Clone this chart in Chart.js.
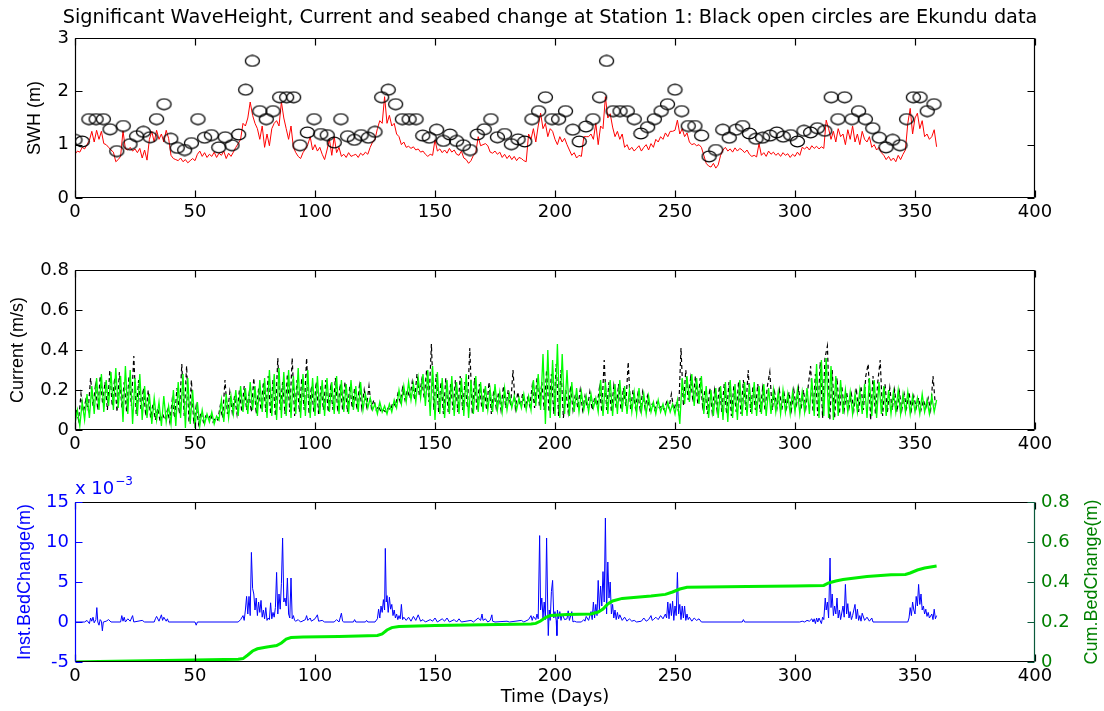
<!DOCTYPE html>
<html>
<head>
<meta charset="utf-8">
<script src="https://cdn.jsdelivr.net/npm/chart.js@4.4.1/dist/chart.umd.min.js"></script>
<style>
  html, body { margin: 0; padding: 0; background: #fff; }
  #wrap { position: relative; width: 1104px; height: 711px; }
  canvas { position: absolute; left: 0; }
</style>
</head>
<body>
<div id="wrap">
  <canvas id="swh" width="1104" height="240" style="top:0"></canvas>
  <canvas id="cur" width="1104" height="232" style="top:240px"></canvas>
  <canvas id="bed" width="1104" height="239" style="top:472px"></canvas>
</div>
<script>
// ---- data ----
const chartTitle = 'Significant WaveHeight, Current and seabed change at Station 1: Black open circles are Ekundu data';

// model SWH (m), one value per day, day 0..359
const swhModel = [
  0.82, 0.88, 0.86, 0.95, 0.92, 1.0, 1.08, 1.25, 1.05, 1.27,
  1.1, 1.25, 1.02, 1.0, 0.95, 0.9, 0.86, 0.68, 0.72, 0.78,
  1.26, 0.92, 0.9, 0.95, 0.88, 0.92, 0.85, 0.93, 0.75, 0.9,
  0.71, 1.1, 1.25, 1.05, 1.27, 1.1, 1.2, 1.05, 1.27, 1.12,
  0.8, 0.74, 0.72, 0.7, 0.75, 0.68, 0.72, 0.66, 0.7, 0.74,
  0.7, 0.82, 0.88, 0.78, 0.85, 0.76, 0.82, 0.78, 0.86, 0.76,
  0.84, 0.8, 0.88, 0.74, 0.84, 0.78, 0.86, 0.95, 1.02, 1.1,
  1.4, 1.35, 1.5, 1.8, 1.55, 1.4, 1.3, 1.1, 1.35, 0.95,
  1.2, 0.98, 1.3, 1.4, 1.45, 1.35, 1.8, 1.5, 1.3, 1.1,
  1.35, 0.95, 0.85, 0.78, 0.74, 0.85, 0.92, 1.0, 1.15, 0.9,
  1.0, 0.88, 0.95, 0.82, 0.72, 0.9, 1.1, 0.8, 1.15, 0.85,
  0.95, 0.78, 0.82, 0.76, 0.85, 0.78, 0.8, 0.82, 0.76, 0.84,
  0.8, 0.86, 0.82, 0.95, 1.05, 1.1, 1.3, 1.45, 1.4, 1.9,
  1.4, 1.55, 1.35, 1.4, 1.2, 1.15, 1.0, 1.05, 0.95, 0.97,
  0.93, 0.96, 0.9, 0.92, 0.86, 0.88, 0.82, 0.78, 0.82, 0.8,
  1.09, 0.88, 0.92, 0.85, 0.9, 0.84, 0.93, 0.86, 0.9, 0.82,
  0.8, 0.88, 0.75, 0.72, 0.65, 0.7, 0.8, 0.85, 1.15, 0.98,
  1.0, 1.02, 0.98, 0.86, 0.84, 0.88, 0.82, 0.86, 0.76, 0.82,
  0.74, 0.8, 0.72, 0.78, 0.7, 0.76, 0.74, 0.7, 0.68, 1.2,
  1.1, 1.3, 1.05, 1.35, 1.59, 1.3, 1.4, 1.15, 1.3, 1.25,
  1.1, 1.0, 1.15, 1.05, 1.12, 1.0, 0.9, 0.8, 0.85, 0.75,
  0.8, 0.78, 1.15, 1.15, 1.15, 1.2, 1.1, 1.4, 1.0, 1.35,
  1.3, 1.9, 1.5, 1.58, 1.33, 1.15, 1.25, 1.1, 1.2, 0.95,
  1.0, 0.9, 0.95, 0.88, 0.93, 0.98, 0.88, 0.95, 1.0, 0.9,
  1.02, 0.95, 1.1, 1.05, 1.15, 1.1, 1.22, 1.15, 1.25, 1.25,
  1.27, 1.46, 1.2, 1.3, 1.15, 1.22, 1.05, 1.0, 1.02, 0.98,
  1.0, 0.95, 0.8, 0.65, 0.6, 0.58, 0.65, 0.56, 0.62, 0.8,
  0.9, 0.95, 0.88, 0.92, 0.86, 0.94, 0.88, 0.93, 0.9, 0.85,
  0.9, 0.82, 0.78, 0.8, 0.77, 1.02, 0.8, 0.85, 0.78, 0.88,
  0.82, 0.86, 0.8, 0.84, 0.78, 0.85, 0.8, 0.83, 0.76, 0.82,
  0.78, 0.86, 0.8, 0.95, 0.92, 0.96, 0.9, 0.98, 0.93, 0.97,
  0.92, 0.96, 0.93, 1.46, 1.3, 1.1, 1.25, 1.05, 1.3, 1.15,
  1.2, 1.0, 1.28, 1.1, 1.35, 1.05, 1.2, 1.0, 1.25, 1.1,
  1.05, 1.15, 0.95, 1.0, 0.9, 0.95, 0.85, 0.8, 0.72, 0.78,
  0.7, 0.75, 0.68, 0.8, 0.72, 0.82, 0.9, 1.4, 1.68, 1.2,
  1.5, 1.59, 1.3, 1.45, 1.15, 1.2, 1.1, 1.15, 1.28, 0.96
];

// Ekundu SWH observations (open circles)
const ekunduDays = [
  0, 3, 5.8, 8.8, 11.8, 14.6, 17.4, 20.1, 22.9, 25.7,
  28.5, 31.3, 34, 37.1, 39.9, 42.6, 45.7, 48.5, 51.25, 54,
  56.8, 59.9, 62.6, 65.4, 68.2, 71.1, 73.9, 77, 79.7, 82.5,
  85.3, 88.2, 91.1, 93.75, 96.8, 99.6, 102.4, 105.1, 108, 110.8,
  113.6, 116.4, 119.2, 122.2, 125, 127.8, 130.5, 133.6, 136.4, 139.2,
  142.1, 144.9, 147.6, 150.7, 153.5, 156.25, 159, 161.8, 164.6, 167.6,
  170.5, 173.3, 176, 179, 181.8, 184.6, 187.4, 190.4, 193.2, 196,
  198.75, 201.5, 204.4, 207.4, 210.1, 212.9, 215.8, 218.6, 221.5, 224.2,
  227.1, 230.1, 233, 235.8, 238.6, 241.4, 244.2, 246.9, 250, 252.8,
  255.5, 258.3, 261.1, 264.2, 267, 269.9, 272.6, 275.4, 278.2, 281,
  283.75, 286.5, 289.6, 292.4, 295.1, 298.2, 301, 303.75, 306.5, 309.3,
  312.4, 315.1, 317.9, 320.7, 323.75, 326.5, 329.3, 332.4, 335.1, 337.9,
  340.7, 343.75, 346.5, 349.3, 352.1, 355.1, 357.9
];
const ekunduSwh = [
  1.09, 1.06, 1.48, 1.48, 1.48, 1.29, 0.88, 1.35, 1.01, 1.16,
  1.24, 1.14, 1.48, 1.76, 1.11, 0.94, 0.9, 1.03, 1.48, 1.13,
  1.18, 0.95, 1.14, 0.99, 1.19, 2.03, 2.57, 1.63, 1.48, 1.63,
  1.89, 1.89, 1.89, 0.99, 1.23, 1.48, 1.2, 1.18, 1.04, 1.48,
  1.16, 1.09, 1.18, 1.13, 1.24, 1.89, 2.03, 1.76, 1.48, 1.48,
  1.48, 1.17, 1.13, 1.28, 1.07, 1.19, 1.07, 0.99, 0.9, 1.19,
  1.29, 1.48, 1.14, 1.2, 1.01, 1.1, 1.06, 1.48, 1.63, 1.89,
  1.48, 1.48, 1.63, 1.28, 1.06, 1.34, 1.48, 1.89, 2.57, 1.63,
  1.63, 1.63, 1.48, 1.21, 1.33, 1.48, 1.63, 1.76, 2.03, 1.63,
  1.35, 1.35, 1.17, 0.78, 0.9, 1.28, 1.13, 1.28, 1.35, 1.21,
  1.11, 1.13, 1.17, 1.23, 1.15, 1.18, 1.06, 1.26, 1.23, 1.31,
  1.26, 1.89, 1.48, 1.89, 1.48, 1.63, 1.48, 1.31, 1.13, 0.95,
  1.09, 0.99, 1.48, 1.89, 1.89, 1.63, 1.76
];

// current speed (m/s), green: day 0..359
const currentGreen = [
  0.03, 0.10, 0.02, 0.14, 0.05, 0.18, 0.06, 0.22, 0.08, 0.26,
  0.10, 0.28, 0.09, 0.25, 0.12, 0.29, 0.10, 0.31, 0.11, 0.27,
  0.04, 0.32, 0.08, 0.30, 0.03, 0.26, 0.07, 0.28, 0.05, 0.22,
  0.06, 0.18, 0.03, 0.16, 0.05, 0.14, 0.02, 0.17, 0.04, 0.12,
  0.03, 0.20, 0.02, 0.24, 0.06, 0.28, 0.01, 0.26, 0.03, 0.20,
  0.01, 0.14, 0.02, 0.10, 0.03, 0.08, 0.04, 0.09, 0.03, 0.07,
  0.05, 0.15, 0.04, 0.18, 0.06, 0.17, 0.08, 0.20, 0.07, 0.22,
  0.09, 0.21, 0.08, 0.24, 0.10, 0.22, 0.07, 0.25, 0.09, 0.26,
  0.06, 0.30, 0.07, 0.28, 0.05, 0.31, 0.06, 0.29, 0.07, 0.30,
  0.06, 0.27, 0.08, 0.31, 0.06, 0.28, 0.07, 0.30, 0.06, 0.26,
  0.07, 0.27, 0.08, 0.25, 0.07, 0.26, 0.09, 0.24, 0.08, 0.27,
  0.08, 0.25, 0.09, 0.23, 0.08, 0.25, 0.10, 0.22, 0.09, 0.24,
  0.10, 0.18, 0.11, 0.16, 0.10, 0.13, 0.08, 0.14, 0.09, 0.12,
  0.08, 0.13, 0.09, 0.15, 0.11, 0.20, 0.13, 0.22, 0.14, 0.24,
  0.15, 0.23, 0.14, 0.26, 0.16, 0.28, 0.12, 0.30, 0.07, 0.32,
  0.05, 0.29, 0.08, 0.26, 0.06, 0.25, 0.08, 0.27, 0.07, 0.24,
  0.08, 0.26, 0.07, 0.28, 0.06, 0.25, 0.08, 0.27, 0.09, 0.24,
  0.09, 0.22, 0.10, 0.20, 0.09, 0.23, 0.10, 0.19, 0.09, 0.21,
  0.10, 0.18, 0.11, 0.17, 0.10, 0.16, 0.11, 0.18, 0.10, 0.17,
  0.10, 0.25, 0.12, 0.28, 0.10, 0.38, 0.03, 0.40, 0.06, 0.35,
  0.07, 0.43, 0.06, 0.38, 0.08, 0.30, 0.07, 0.24, 0.09, 0.21,
  0.09, 0.19, 0.10, 0.17, 0.09, 0.18, 0.11, 0.16, 0.09, 0.25,
  0.07, 0.24, 0.08, 0.25, 0.07, 0.23, 0.08, 0.25, 0.09, 0.22,
  0.08, 0.20, 0.09, 0.19, 0.08, 0.21, 0.09, 0.18, 0.08, 0.17,
  0.09, 0.14, 0.08, 0.15, 0.09, 0.13, 0.08, 0.14, 0.09, 0.13,
  0.08, 0.15, 0.03, 0.26, 0.13, 0.27, 0.14, 0.28, 0.12, 0.26,
  0.13, 0.27, 0.08, 0.22, 0.06, 0.20, 0.07, 0.21, 0.06, 0.22,
  0.05, 0.24, 0.04, 0.25, 0.06, 0.23, 0.05, 0.25, 0.07, 0.24,
  0.07, 0.23, 0.08, 0.24, 0.07, 0.22, 0.08, 0.23, 0.07, 0.21,
  0.08, 0.20, 0.09, 0.19, 0.08, 0.20, 0.09, 0.18, 0.08, 0.19,
  0.09, 0.20, 0.08, 0.19, 0.09, 0.21, 0.08, 0.26, 0.07, 0.33,
  0.06, 0.35, 0.07, 0.36, 0.06, 0.32, 0.05, 0.27, 0.07, 0.25,
  0.08, 0.20, 0.09, 0.19, 0.08, 0.18, 0.09, 0.20, 0.08, 0.23,
  0.06, 0.26, 0.07, 0.25, 0.06, 0.24, 0.08, 0.22, 0.07, 0.20,
  0.08, 0.19, 0.09, 0.20, 0.08, 0.18, 0.09, 0.19, 0.08, 0.17,
  0.09, 0.16, 0.08, 0.18, 0.09, 0.15, 0.08, 0.17, 0.09, 0.15
];

// current speed (m/s), black dashed: day 0.5..358.5
const currentBlack = [
  0.10, 0.05, 0.18, 0.09, 0.15, 0.10, 0.26, 0.12, 0.22, 0.10,
  0.27, 0.13, 0.24, 0.10, 0.30, 0.12, 0.26, 0.09, 0.29, 0.11,
  0.24, 0.09, 0.27, 0.12, 0.37, 0.08, 0.25, 0.10, 0.21, 0.07,
  0.20, 0.06, 0.13, 0.05, 0.11, 0.04, 0.08, 0.05, 0.10, 0.04,
  0.15, 0.06, 0.21, 0.08, 0.33, 0.07, 0.32, 0.04, 0.25, 0.03,
  0.12, 0.03, 0.09, 0.04, 0.07, 0.05, 0.08, 0.04, 0.06, 0.05,
  0.12, 0.06, 0.25, 0.08, 0.19, 0.09, 0.17, 0.08, 0.20, 0.09,
  0.22, 0.10, 0.18, 0.09, 0.26, 0.08, 0.21, 0.10, 0.24, 0.09,
  0.27, 0.08, 0.25, 0.07, 0.36, 0.10, 0.24, 0.08, 0.28, 0.09,
  0.36, 0.07, 0.25, 0.09, 0.26, 0.10, 0.36, 0.08, 0.22, 0.09,
  0.24, 0.08, 0.22, 0.10, 0.25, 0.09, 0.21, 0.10, 0.26, 0.09,
  0.23, 0.10, 0.24, 0.09, 0.22, 0.11, 0.21, 0.10, 0.22, 0.11,
  0.20, 0.12, 0.22, 0.11, 0.15, 0.10, 0.12, 0.09, 0.10, 0.09,
  0.11, 0.10, 0.14, 0.12, 0.18, 0.14, 0.21, 0.15, 0.20, 0.16,
  0.24, 0.15, 0.28, 0.17, 0.25, 0.16, 0.30, 0.14, 0.43, 0.10,
  0.28, 0.09, 0.24, 0.08, 0.26, 0.09, 0.23, 0.10, 0.25, 0.09,
  0.27, 0.10, 0.24, 0.11, 0.41, 0.08, 0.26, 0.10, 0.23, 0.11,
  0.21, 0.10, 0.24, 0.08, 0.20, 0.11, 0.19, 0.10, 0.22, 0.11,
  0.20, 0.12, 0.30, 0.11, 0.19, 0.12, 0.18, 0.11, 0.16, 0.12,
  0.22, 0.11, 0.26, 0.12, 0.24, 0.10, 0.30, 0.09, 0.28, 0.08,
  0.33, 0.07, 0.30, 0.06, 0.20, 0.09, 0.22, 0.10, 0.18, 0.11,
  0.20, 0.10, 0.17, 0.11, 0.19, 0.10, 0.16, 0.12, 0.21, 0.09,
  0.35, 0.10, 0.24, 0.09, 0.22, 0.11, 0.23, 0.10, 0.21, 0.12,
  0.34, 0.10, 0.20, 0.11, 0.18, 0.10, 0.19, 0.11, 0.17, 0.10,
  0.13, 0.10, 0.14, 0.11, 0.12, 0.10, 0.14, 0.11, 0.18, 0.10,
  0.14, 0.09, 0.41, 0.12, 0.30, 0.15, 0.26, 0.14, 0.27, 0.13,
  0.26, 0.12, 0.20, 0.08, 0.21, 0.09, 0.20, 0.10, 0.22, 0.09,
  0.23, 0.08, 0.24, 0.07, 0.22, 0.09, 0.24, 0.08, 0.25, 0.10,
  0.30, 0.09, 0.22, 0.10, 0.23, 0.09, 0.21, 0.10, 0.22, 0.29,
  0.10, 0.19, 0.11, 0.20, 0.10, 0.18, 0.11, 0.19, 0.10, 0.20,
  0.11, 0.21, 0.10, 0.20, 0.11, 0.22, 0.32, 0.09, 0.28, 0.07,
  0.34, 0.06, 0.36, 0.42, 0.05, 0.30, 0.06, 0.26, 0.08, 0.22,
  0.10, 0.19, 0.11, 0.18, 0.10, 0.21, 0.09, 0.22, 0.10, 0.27,
  0.33, 0.05, 0.27, 0.08, 0.24, 0.35, 0.07, 0.23, 0.09, 0.21,
  0.10, 0.20, 0.09, 0.19, 0.10, 0.18, 0.11, 0.19, 0.10, 0.17,
  0.11, 0.16, 0.10, 0.15, 0.11, 0.16, 0.10, 0.27, 0.12
];

// instantaneous bed change, [day, value x 1e-3 m]
const bedInst = [
  [0,0],[4,0],[5,0.2],[6,-0.2],[6.5,0.5],[7,0.1],[7.5,0.6],[8,-0.1],[8.7,0.3],[9.1,1.8],
  [9.5,0],[10,-0.4],[10.5,0.3],[11,0.1],[11.4,-1.1],[11.8,0],[13,0.1],[14,0.3],[15,0],[19,0],
  [19.5,0.8],[20,0.1],[20.5,0.6],[21,0],[22,0.4],[23,0.1],[24,0.8],[24.5,0],[28,0.2],[29,0],
  [33,0],[33.5,0.4],[34,0.7],[35,0.1],[36,0.9],[36.5,0.2],[37,0.6],[38,0.1],[38.5,0.4],[39,0],
  [50,0],[50.5,-0.4],[51,0],[68,0],[69,0.3],[70,0.8],[70.5,0.2],[71,1.5],[71.5,3.2],[72,1.0],
  [72.5,3.2],[73,0.8],[73.5,8.7],[74,4.2],[74.5,3.5],[75,1.5],[75.5,3.0],[76,0.8],[76.5,2.5],[77,1.2],
  [77.5,2.7],[78,0.6],[78.5,1.5],[79,0.4],[79.5,1.8],[80,0.2],[80.5,0.5],[81,0.3],[81.5,2.4],[82,0.4],
  [82.5,1.2],[83,0.6],[83.5,1.8],[84,6.2],[84.5,1.0],[85,3.5],[85.5,1.6],[86,4.8],[86.5,10.5],[87,2.5],
  [87.5,3.0],[88,2.0],[88.5,5.5],[89,1.0],[89.5,0.5],[90,5.5],[90.5,0.4],[91,0.8],[91.5,0.2],[92,0.1],
  [93,0.3],[94,0],[96,0.3],[96.5,0.8],[97,0.2],[98,0.5],[98.5,0.1],[100,0.4],[101,0.9],[101.5,0.1],
  [103,0.2],[104,0],[108,0],[109,0.3],[110,0],[111,1.1],[111.5,0.1],[112,0],[116,0],[116.5,0.3],
  [117,0],[121,0],[121.5,0.2],[122,0],[125,0],[126,0.4],[126.5,1.6],[127,0.5],[127.5,2.0],[128,1.2],
  [128.5,2.8],[129,1.5],[129.3,9.2],[129.7,2.5],[130,3.3],[130.5,1.2],[131,3.1],[131.5,1.6],[132,2.2],[132.5,0.8],
  [133,1.5],[133.5,0.5],[134,1.0],[134.5,0.3],[135,0.8],[135.5,0.4],[136,2.2],[136.5,0.3],[137,0.6],[138,0.2],
  [139,0.6],[140,0.1],[141,0.7],[142,0.2],[143,0.9],[144,0.1],[145,0.3],[146,0],[148,0.3],[149,0.1],
  [150,0.5],[151,0],[153,0.4],[154,0.1],[155,0.5],[156,0],[158,0.3],[159,0],[160,0.4],[161,0],
  [165,0.2],[166,0],[168,0.5],[169,0.2],[169.6,1.0],[170,0.2],[171,0.4],[172,0],[173,0.2],[173.7,0.9],
  [174,0.1],[175,0],[180,0.1],[181,0],[186,0.2],[187,0],[189,0.3],[190,0.8],[190.5,0.2],[191,0.7],
  [192,0.3],[192.5,1.0],[193,0.4],[193.6,10.8],[194,1.5],[194.5,3.0],[195,0.5],[195.5,2.5],[196,0.3],[196.5,10.5],
  [197,1.0],[197.2,-1.7],[197.6,1.5],[198,0.2],[198.5,3.8],[199,5.2],[199.5,0.5],[200,1.3],[200.5,0.2],[200.8,-1.7],
  [201,1.5],[201.5,0.4],[202,1.3],[202.5,0.2],[203,1.0],[204,0.3],[205,0.4],[205.5,1.4],[206,0.2],[207,1.3],
  [207.5,0],[208,0.1],[209,0],[211,0],[212,0.3],[212.5,0.1],[213,0.7],[214,0.2],[215,1.3],[215.5,0.3],
  [216,2.5],[216.5,0.5],[217,2.2],[217.5,0.8],[218,5.2],[218.5,1.5],[219,4.5],[219.5,2.0],[220,6.3],[220.5,2.5],
  [221,13.0],[221.5,1.0],[222,7.5],[222.5,3.0],[223,5.0],[223.5,1.0],[224,2.2],[224.5,0.5],[225,1.5],[225.5,0.3],
  [226,1.2],[226.5,0.4],[227,0.9],[228,0.2],[229,0.6],[230,0.1],[231,0.4],[232,0.1],[233,0.2],[234,0],
  [236,0.1],[237,0.5],[238,0.1],[239,0.3],[240,0.8],[240.5,0.2],[241,0.3],[242,0.6],[243,0.3],[244,0.8],
  [245,0.4],[246,1.0],[246.5,0.5],[247,2.5],[247.5,0.4],[248,2.3],[248.5,0.8],[249,2.6],[249.5,0.2],[250,2.0],
  [250.5,0.8],[251,6.2],[251.5,1.0],[252,2.2],[252.5,0.3],[253,2.0],[253.5,0.5],[254,2.0],[254.5,0.2],[255,1.0],
  [255.5,0.3],[256,0.6],[257,0.1],[258,0.5],[259,0.2],[260,0.4],[261,0],[278,0],[278.5,0.3],[279,0],
  [302,0],[303,0.1],[304,0],[305,0.2],[306,0.1],[307,0.4],[307.5,0],[308,0.4],[308.5,-0.2],[309,0.5],
  [309.5,0],[310,0.5],[311,-0.2],[311.5,0.6],[312,0.3],[312.6,3.0],[313,1.5],[313.5,2.5],[314,0.5],[314.6,8.0],
  [315,1.8],[315.5,3.5],[316,0.8],[316.5,2.0],[317,1.0],[317.5,3.0],[318,0.5],[318.5,1.5],[319,0.3],[320,2.0],
  [320.5,0.6],[321,4.7],[321.5,1.0],[322,2.3],[322.5,0.5],[323,1.3],[323.5,0.3],[324,0.8],[325,2.2],[325.5,0.4],
  [326,1.6],[326.5,0.2],[327,0.8],[327.5,0.1],[328,1.1],[329,0.2],[330,0.6],[331,0.1],[332,0.5],[332.5,0],
  [347,0],[347.5,0.5],[348,1.8],[348.5,0.8],[349,2.5],[349.5,1.5],[350,1.0],[350.5,3.2],[351,2.0],[351.5,4.7],
  [352,2.2],[352.5,3.5],[353,1.5],[353.5,2.0],[354,1.0],[354.5,1.6],[355,0.7],[355.5,1.2],[356,0.5],[357,1.0],
  [357.5,0.3],[358,1.6],[358.5,0.4],[359,0.8]
];

// cumulative bed change, [day, m]
const bedCum = [
  [0,0],[10,0.002],[30,0.006],[50,0.01],[68,0.014],[70,0.017],[72,0.035],[74,0.055],[76,0.066],[80,0.075],
  [84,0.082],[86,0.095],[88,0.115],[90,0.122],[95,0.125],[110,0.128],[126,0.133],[128,0.14],[130,0.16],[132,0.172],
  [135,0.178],[150,0.182],[170,0.186],[190,0.19],[192,0.193],[194,0.205],[196,0.222],[198,0.232],[205,0.237],[215,0.24],
  [218,0.25],[220,0.265],[222,0.29],[224,0.305],[228,0.318],[240,0.33],[246,0.338],[249,0.35],[252,0.365],[255,0.374],
  [280,0.378],[300,0.38],[312,0.383],[314,0.395],[317,0.405],[320,0.412],[325,0.42],[330,0.428],[340,0.436],[346,0.438],
  [348,0.445],[351,0.46],[354,0.47],[359,0.48]
];

const xTicks = { min: 0, max: 400, step: 50 };

// ---- drawing ----
// horizontal text in the figure is wide, rotated text is not
const WIDE = "'DejaVu Sans', Verdana, sans-serif";
const NARROW = "'Liberation Sans', Arial, Helvetica, sans-serif";
Chart.defaults.font.family = WIDE;
Chart.defaults.color = '#000';

const BLUE = '#0000ff';
const DKGREEN = '#008000';

const ring = document.createElement('canvas');
ring.width = 17; ring.height = 13;
(() => {
  const c = ring.getContext('2d');
  c.strokeStyle = '#000';
  c.lineWidth = 1.3;
  c.beginPath();
  c.ellipse(8.5, 6.5, 7, 5.3, 0, 0, Math.PI * 2);
  c.stroke();
})();

// MATLAB style box with inward ticks
const boxPlugin = {
  id: 'matlabBox',
  afterDraw(chart, args, o) {
    const { ctx, chartArea: a, scales } = chart;
    const L = 7;
    const xs = scales.x, yl = scales.y, yr = scales[o.rightScale || 'y'];
    const l = Math.round(a.left) + 0.5, r = Math.round(a.right) - 0.5;
    const t = Math.round(a.top) + 0.5, b = Math.round(a.bottom) - 0.5;
    ctx.save();
    ctx.lineWidth = 1.2;
    ctx.strokeStyle = '#000';
    ctx.beginPath();
    ctx.moveTo(l, t); ctx.lineTo(r, t);
    ctx.moveTo(l, b); ctx.lineTo(r, b);
    xs.ticks.forEach((tk) => {
      const p = Math.round(xs.getPixelForValue(tk.value)) + 0.5;
      ctx.moveTo(p, b); ctx.lineTo(p, b - L);
      ctx.moveTo(p, t); ctx.lineTo(p, t + L);
    });
    ctx.stroke();

    ctx.strokeStyle = o.leftColor || '#000';
    ctx.beginPath();
    ctx.moveTo(l, t); ctx.lineTo(l, b);
    yl.ticks.forEach((tk) => {
      const p = Math.round(yl.getPixelForValue(tk.value)) + 0.5;
      ctx.moveTo(l, p); ctx.lineTo(l + L, p);
    });
    ctx.stroke();

    ctx.strokeStyle = o.rightColor || '#000';
    ctx.beginPath();
    ctx.moveTo(r, t); ctx.lineTo(r, b);
    yr.ticks.forEach((tk) => {
      const p = Math.round(yr.getPixelForValue(tk.value)) + 0.5;
      ctx.moveTo(r, p); ctx.lineTo(r - L, p);
    });
    ctx.stroke();

    if (o.title) {
      ctx.fillStyle = '#000';
      ctx.font = `19.3px ${WIDE}`;
      ctx.textAlign = 'center';
      ctx.textBaseline = 'middle';
      ctx.fillText(o.title, 550, 18);
    }
    ctx.restore();
  },
};

const fixW = (w) => (s) => { s.width = w; };
const fixH = (h) => (s) => { s.height = h; };

const xAxis = (h, title) => ({
  type: 'linear',
  min: xTicks.min,
  max: xTicks.max,
  afterFit: fixH(h),
  grid: { display: false, drawTicks: false },
  border: { display: false },
  ticks: { stepSize: xTicks.step, padding: 4, font: { size: 18 }, color: '#000', maxRotation: 0 },
  title: title || { display: false },
});

const yAxis = (min, max, step, w, title, color, pos) => ({
  type: 'linear',
  position: pos || 'left',
  min, max,
  afterFit: fixW(w),
  grid: { display: false, drawTicks: false },
  border: { display: false },
  ticks: { stepSize: step, padding: 6, font: { size: 18 }, color: color || '#000' },
  title: title || { display: false },
});

const yTitle = (text, color, pad) => ({
  display: true, text, color,
  font: { size: 18, family: NARROW },
  padding: { top: pad, bottom: 0 },
});

const base = {
  responsive: false,
  animation: false,
  events: [],
  elements: { line: { tension: 0 } },
};

// 1) significant wave height
new Chart(document.getElementById('swh'), {
  type: 'line',
  data: {
    datasets: [
      {
        data: ekunduDays.map((d, i) => ({ x: d, y: ekunduSwh[i] })),
        showLine: false,
        pointStyle: ring,
        pointRadius: 6,
        borderColor: '#000',
      },
      {
        data: swhModel.map((v, i) => ({ x: i, y: v })),
        borderColor: '#ff0000',
        borderWidth: 1,
        pointRadius: 0,
      },
    ],
  },
  options: {
    ...base,
    layout: { padding: { left: 0, right: 69, top: 38, bottom: 0 } },
    scales: {
      x: xAxis(42),
      y: yAxis(0, 3, 1, 75, yTitle('SWH (m)', '#000', 24)),
    },
    plugins: {
      legend: { display: false },
      tooltip: { enabled: false },
      matlabBox: { title: chartTitle },
    },
  },
  plugins: [boxPlugin],
});

// 2) current
new Chart(document.getElementById('cur'), {
  type: 'line',
  data: {
    datasets: [
      {
        data: currentGreen.map((v, i) => ({ x: i, y: v })),
        borderColor: '#00ff00',
        borderWidth: 1.3,
        pointRadius: 0,
      },
      {
        data: currentBlack.map((v, i) => ({ x: i + 0.5, y: v })),
        borderColor: '#000',
        borderWidth: 1.2,
        borderDash: [4, 3],
        pointRadius: 0,
      },
    ],
  },
  options: {
    ...base,
    layout: { padding: { left: 0, right: 69, top: 30, bottom: 0 } },
    scales: {
      x: xAxis(42),
      y: yAxis(0, 0.8, 0.2, 75, yTitle('Current (m/s)', '#000', 7)),
    },
    plugins: { legend: { display: false }, tooltip: { enabled: false }, matlabBox: {} },
  },
  plugins: [boxPlugin],
});

// 3) bed change (two y axes)
const bedLabels = {
  id: 'bedLabels',
  afterDraw(chart) {
    const { ctx, chartArea: a } = chart;
    ctx.save();
    ctx.fillStyle = BLUE;
    ctx.textBaseline = 'alphabetic';
    ctx.font = `18px ${WIDE}`;
    ctx.fillText('x 10', a.left, a.top - 8);
    const w = ctx.measureText('x 10').width;
    ctx.font = `12px ${WIDE}`;
    ctx.fillText('\u22123', a.left + w + 1, a.top - 17);
    ctx.fillStyle = DKGREEN;
    ctx.font = `18px ${NARROW}`;
    ctx.textAlign = 'center';
    ctx.textBaseline = 'middle';
    ctx.translate(1092, (a.top + a.bottom) / 2);
    ctx.rotate(-Math.PI / 2);
    ctx.fillText('Cum.BedChange(m)', 0, 0);
    ctx.restore();
  },
};

new Chart(document.getElementById('bed'), {
  type: 'line',
  data: {
    datasets: [
      {
        data: bedCum.map(([d, v]) => ({ x: d, y: v })),
        yAxisID: 'y2',
        borderColor: '#00ee00',
        borderWidth: 3,
        pointRadius: 0,
      },
      {
        data: bedInst.map(([d, v]) => ({ x: d, y: v })),
        yAxisID: 'y',
        borderColor: BLUE,
        borderWidth: 1,
        pointRadius: 0,
      },
    ],
  },
  options: {
    ...base,
    layout: { padding: { left: 0, right: 0, top: 30, bottom: 0 } },
    scales: {
      x: xAxis(49, { display: true, text: 'Time (Days)', font: { size: 18 }, color: '#000', padding: { top: 0, bottom: 3 } }),
      y: yAxis(-5, 15, 5, 75, yTitle('Inst.BedChange(m)', BLUE, 14), BLUE),
      y2: yAxis(0, 0.8, 0.2, 69, null, DKGREEN, 'right'),
    },
    plugins: {
      legend: { display: false },
      tooltip: { enabled: false },
      matlabBox: { leftColor: BLUE, rightColor: '#0a5a3c', rightScale: 'y2' },
    },
  },
  plugins: [boxPlugin, bedLabels],
});
</script>
</body>
</html>
